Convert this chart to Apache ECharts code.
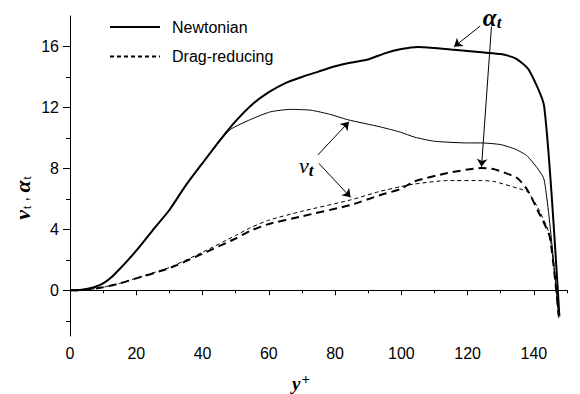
<!DOCTYPE html>
<html>
<head>
<meta charset="utf-8">
<script src="https://cdn.jsdelivr.net/npm/echarts@6/dist/echarts.min.js"></script>
<style>
  html, body { margin: 0; padding: 0; background: #fff; }
  #chart { width: 580px; height: 394px; }
</style>
</head>
<body>
<div id="chart"></div>
<script>
// Eddy diffusivity profiles across the channel, wall units (y+)
const newtAlphaX = [0, 3, 5, 7.5, 10, 12.5, 15, 17.5, 20, 25, 30, 35, 40, 45, 50, 55, 60, 65, 70, 75, 80, 85, 90, 95, 100, 105, 110, 115, 120, 125, 130, 134.6, 138.5, 143.1, 147.7];
const newtAlphaY = [0, 0.02, 0.08, 0.22, 0.45, 0.85, 1.4, 1.98, 2.6, 3.95, 5.27, 6.9, 8.35, 9.78, 11.1, 12.2, 13.0, 13.6, 14.0, 14.35, 14.7, 14.95, 15.15, 15.55, 15.83, 15.97, 15.9, 15.8, 15.7, 15.6, 15.5, 15.2, 14.46, 12.08, -1.7];

const newtNuX = [0, 3, 5, 7.5, 10, 12.5, 15, 17.5, 20, 25, 30, 35, 40, 45, 48.4, 54.4, 60.5, 66.5, 72.6, 78.6, 83.7, 93.7, 99.8, 104, 110, 120, 124, 130, 134.5, 138.1, 143.1, 147.5];
const newtNuY = [0, 0.02, 0.08, 0.22, 0.45, 0.85, 1.4, 1.98, 2.6, 3.95, 5.27, 6.9, 8.33, 9.72, 10.55, 11.2, 11.71, 11.87, 11.82, 11.54, 11.2, 10.72, 10.37, 10.05, 9.78, 9.67, 9.67, 9.56, 9.25, 8.79, 7.25, -1.8];

const dragAlphaX = [0, 5, 10, 15, 20, 30, 40, 50, 54.4, 60, 69.5, 84.7, 93.7, 99.8, 103.8, 113.9, 124, 128, 135, 138, 141.1, 144.8, 147.5];
const dragAlphaY = [0, 0.03, 0.2, 0.45, 0.78, 1.45, 2.4, 3.4, 3.9, 4.35, 4.83, 5.6, 6.25, 6.65, 7.14, 7.69, 8.02, 7.95, 7.36, 6.6, 5.27, 3.5, -1.7];

const dragNuX = [0, 5, 10, 15, 20, 30, 40, 50, 54.4, 60, 69.5, 84.7, 93.7, 99.8, 103.8, 113.9, 124, 128, 135, 138, 141, 144.8, 147.5];
const dragNuY = [0, 0.03, 0.2, 0.45, 0.8, 1.5, 2.5, 3.6, 4.1, 4.6, 5.16, 5.93, 6.5, 6.8, 6.97, 7.2, 7.2, 7.14, 6.7, 6.48, 5.5, 3.6, -1.8];

const legendNames = ['Newtonian', 'Drag-reducing'];

const xMajorTicks = [0, 20, 40, 60, 80, 100, 120, 140];
const xMinorTicks = [10, 30, 50, 70, 90, 110, 130, 150];
const yMajorTicks = [0, 4, 8, 12, 16];
const yMinorTicks = [-2, 2, 6, 10, 14];

// annotation arrows: [start, end] in data units
const alphaArrows = [
  [[123.8, 17.34], [115.9, 15.98]],
  [[127.2, 17.3], [124.2, 8.1]]
];
const nuArrows = [
  [[74.8, 8.88], [84.2, 11.06]],
  [[75.1, 8.33], [84.7, 6.1]]
];
const alphaLabelAt = [127.4, 17.85];
const nuLabelAt = [71.3, 8.1];

function pairs(xs, ys) { return xs.map((x, i) => [x, ys[i]]); }

const SANS = '"Liberation Sans", Arial, sans-serif';
const SERIF = '"Liberation Serif", "Times New Roman", serif';

const chart = echarts.init(document.getElementById('chart'), null, { renderer: 'svg' });

function lineSeries(name, data, width, type, extra) {
  return Object.assign({
    type: 'line',
    name: name,
    data: data,
    xAxisIndex: 0,
    yAxisIndex: 0,
    symbol: 'none',
    smooth: 0.2,
    clip: false,
    lineStyle: { color: '#000', width: width, type: type },
    itemStyle: { color: '#000' },
    emphasis: { disabled: true }
  }, extra || {});
}

function arrowData(list) {
  return list.map(a => [{ coord: a[0] }, { coord: a[1] }]);
}

const option = {
  animation: false,
  backgroundColor: '#fff',
  grid: { left: 70, right: 13, top: 16, bottom: 58 },
  legend: {
    data: legendNames,
    orient: 'vertical',
    left: 104,
    top: 14,
    itemWidth: 50,
    itemHeight: 14,
    itemGap: 13.5,
    selectedMode: false,
    itemStyle: { opacity: 0 },
    textStyle: { fontFamily: SANS, fontSize: 16, color: '#000', padding: [0, 0, 0, 7] }
  },
  xAxis: [
    {
      type: 'value', min: 0, max: 150,
      axisLine: { lineStyle: { color: '#000', width: 1 } },
      axisTick: { customValues: xMajorTicks, length: 5, lineStyle: { color: '#000' } },
      axisLabel: { customValues: xMajorTicks, margin: 9, fontFamily: SANS, fontSize: 16, color: '#000' },
      splitLine: { show: false }
    },
    {
      type: 'value', min: 0, max: 150, position: 'bottom',
      axisLine: { show: false },
      axisTick: { customValues: xMinorTicks, length: 3, lineStyle: { color: '#000' } },
      axisLabel: { show: false },
      splitLine: { show: false }
    }
  ],
  yAxis: [
    {
      type: 'value', min: -3, max: 18,
      axisLine: { show: true, lineStyle: { color: '#000', width: 1 } },
      axisTick: { show: true, customValues: yMajorTicks, length: 7, lineStyle: { color: '#000' } },
      axisLabel: { customValues: yMajorTicks, margin: 11, fontFamily: SANS, fontSize: 16, color: '#000' },
      splitLine: { show: false }
    },
    {
      type: 'value', min: -3, max: 18, position: 'left',
      axisLine: { show: false },
      axisTick: { show: true, customValues: yMinorTicks, length: 4, lineStyle: { color: '#000' } },
      axisLabel: { show: false },
      splitLine: { show: false }
    }
  ],
  series: [
    lineSeries('Newtonian', pairs(newtAlphaX, newtAlphaY), 2, 'solid', {
      markLine: {
        silent: true,
        symbol: ['none', 'arrow'],
        symbolSize: 8,
        label: { show: false },
        lineStyle: { color: '#000', width: 1, type: 'solid' },
        emphasis: { disabled: true },
        data: arrowData(alphaArrows).concat(arrowData(nuArrows))
      },
      markPoint: {
        silent: true,
        symbol: 'circle',
        symbolSize: 1,
        itemStyle: { color: 'rgba(0,0,0,0)' },
        label: {
          show: true,
          position: 'inside',
          rich: {
            a: { fontFamily: SERIF, fontStyle: 'italic', fontWeight: 'bold', fontSize: 25, color: '#000', verticalAlign: 'top', lineHeight: 26 },
            t: { fontFamily: SERIF, fontStyle: 'italic', fontWeight: 'bold', fontSize: 17, color: '#000', verticalAlign: 'top', padding: [9, 0, 0, 0] },
            n: { fontFamily: SERIF, fontStyle: 'italic', fontSize: 22, color: '#000', verticalAlign: 'top', lineHeight: 24 },
            u: { fontFamily: SERIF, fontStyle: 'italic', fontWeight: 'bold', fontSize: 17, color: '#000', verticalAlign: 'top', padding: [8, 0, 0, 0] }
          }
        },
        data: [
          { coord: alphaLabelAt, label: { formatter: '{a|α}{t|t}' } },
          { coord: nuLabelAt, label: { formatter: '{n|ν}{u|t}' } }
        ]
      }
    }),
    lineSeries('Newtonian', pairs(newtNuX, newtNuY), 1, 'solid'),
    lineSeries('Drag-reducing', pairs(dragNuX, dragNuY), 1, [4, 3]),
    lineSeries('Drag-reducing', pairs(dragAlphaX, dragAlphaY), 2, [8, 5])
  ],
  graphic: [
    {
      type: 'text',
      x: 22, y: 198,
      rotation: Math.PI / 2,
      style: {
        text: '{g|ν}{s|t}{c| , }{g|α}{s|t}',
        align: 'center',
        verticalAlign: 'middle',
        rich: {
          g: { fontFamily: SERIF, fontStyle: 'italic', fontWeight: 'bold', fontSize: 22, fill: '#000', verticalAlign: 'top', lineHeight: 22 },
          s: { fontFamily: SANS, fontSize: 11, fill: '#000', verticalAlign: 'top', padding: [10, 0, 0, 1] },
          c: { fontFamily: SANS, fontSize: 16, fill: '#000', verticalAlign: 'top', padding: [3, 0, 0, 0] }
        }
      }
    },
    {
      type: 'text',
      x: 301, y: 382,
      style: {
        text: '{y|y}{p|+}',
        align: 'center',
        verticalAlign: 'middle',
        rich: {
          y: { fontFamily: SERIF, fontStyle: 'italic', fontWeight: 'bold', fontSize: 19, fill: '#000', verticalAlign: 'top', padding: [3, 0, 0, 0] },
          p: { fontFamily: SERIF, fontWeight: 'bold', fontSize: 15, fill: '#000', verticalAlign: 'top', padding: [0, 0, 0, 1] }
        }
      }
    }
  ]
};

chart.setOption(option);
</script>
</body>
</html>
